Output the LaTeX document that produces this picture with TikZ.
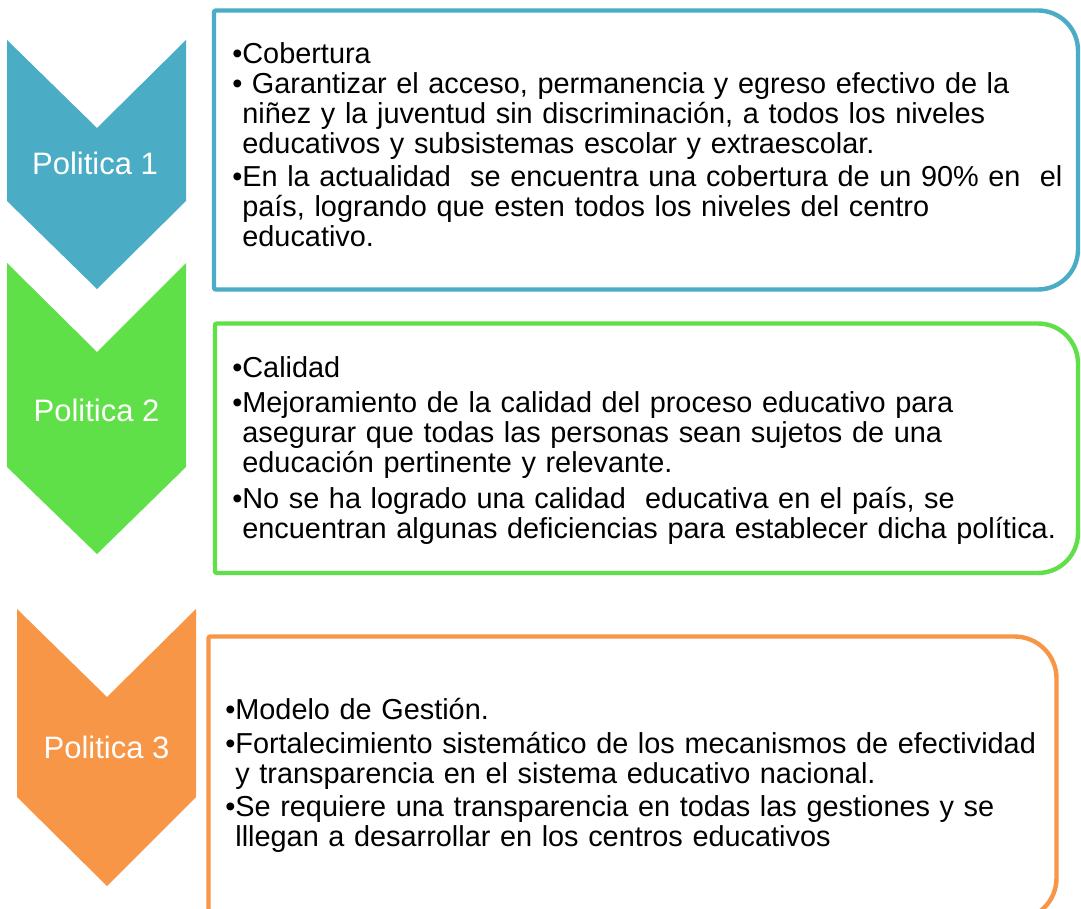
\documentclass[tikz,border=0pt]{standalone}
\usepackage{fontspec}
\setmainfont{Liberation Sans}

\definecolor{polblue}{RGB}{75,172,198}
\definecolor{polgreen}{RGB}{96,224,72}
\definecolor{polorange}{RGB}{247,150,70}

\newcommand{\ind}{\phantom{•}}
\newcommand{\txtfont}[1]{\fontsize{21.65pt}{#1}\selectfont\lineskiplimit=-30pt\relax}

\tikzset{
    chevlabel/.style={white, inner sep=0pt, anchor=base, font=\fontsize{23.25pt}{28pt}\selectfont},
    boxline/.style={line width=3.3pt},
    boxtext/.style={inner sep=0pt, anchor=base west, text width=700pt, align=left},
}

\begin{document}
\begin{tikzpicture}[x=0.75pt, y=-0.75pt]
    \useasboundingbox (0,0) rectangle (1081,909);
    \clip (0,0) rectangle (1081,909);

    % chevrons
    \fill[polblue] (7,40) -- (97,128) -- (186,40) -- (186,201) -- (97,289) -- (7,201) -- cycle;
    \fill[polgreen] (7,263) -- (97,352) -- (186,263) -- (186,467) -- (97,554) -- (7,467) -- cycle;
    \fill[polorange] (17,609) -- (107,697) -- (196,609) -- (196,797) -- (107,886) -- (17,797) -- cycle;

    \node[chevlabel] (pol1) at (95,175) {Politica 1};
    \node[chevlabel] (pol2) at (96.5,421) {Politica 2};
    \node[chevlabel] (pol3) at (106.5,758) {Politica 3};

    % boxes
    \draw[boxline, polblue] (214,150) [rounded corners=1.5pt] -- (214,10.5) [rounded corners=30pt] -- (1078,10.5) -- (1078,289.5) [rounded corners=1.5pt] -- (214,289.5) -- cycle;
    \draw[boxline, polgreen] (215,450) [rounded corners=1.5pt] -- (215,323.5) [rounded corners=30pt] -- (1078,323.5) -- (1078,573) [rounded corners=1.5pt] -- (215,573) -- cycle;
    \draw[boxline, polorange] (208.5,780) [rounded corners=1.5pt] -- (208.5,636.5) [rounded corners=31.5pt] -- (1056.5,636.5) -- (1056.5,920) [rounded corners=1.5pt] -- (208.5,920) -- cycle;

    \node[boxtext, font=\txtfont{22.5pt}] (txt1) at (232,64) {%
        •Cobertura\\
        • Garantizar el acceso, permanencia y egreso efectivo de la\\
        \ind niñez y la juventud sin discriminación, a todos los niveles\\
        \ind educativos y subsistemas escolar y extraescolar.\\[2.25pt]
        •En la actualidad~ se encuentra una cobertura de un 90\% en~ el\\
        \ind país, logrando que esten todos los niveles del centro\\
        \ind educativo.};
    \node[boxtext, font=\txtfont{22.5pt}] (txt2) at (232,377) {%
        •Calidad\\[3.75pt]
        •Mejoramiento de la calidad del proceso educativo para\\
        \ind asegurar que todas las personas sean sujetos de una\\
        \ind educación pertinente y relevante.\\[4.5pt]
        •No se ha logrado una calidad~ educativa en el país, se\\
        \ind encuentran algunas deficiencias para establecer dicha política.};
    \node[boxtext, font=\txtfont{22.5pt}] (txt3) at (225,719) {%
        •Modelo de Gestión.\\[3pt]
        •Fortalecimiento sistemático de los mecanismos de efectividad\\
        \ind y transparencia en el sistema educativo nacional.\\[2.25pt]
        •Se requiere una transparencia en todas las gestiones y se\\
        \ind lllegan a desarrollar en los centros educativos};
\end{tikzpicture}
\end{document}
